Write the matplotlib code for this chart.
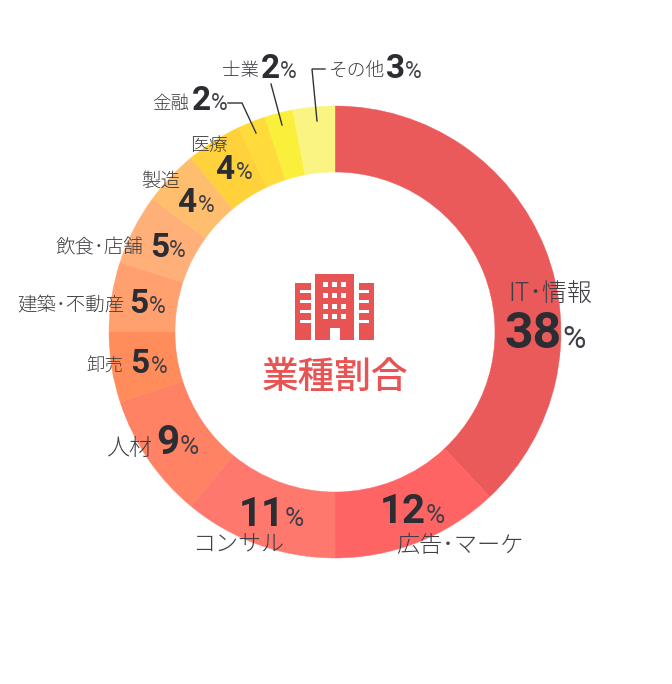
import matplotlib
matplotlib.use("Agg")
import matplotlib.pyplot as plt
from matplotlib.patches import Rectangle

W, H = 672, 684
categories = ["IT･情報", "広告･マーケ", "コンサル", "人材", "卸売", "建築･不動産", "飲食･店舗", "製造", "医療", "金融", "士業", "その他"]
values = [38, 12, 11, 9, 5, 5, 5, 4, 4, 2, 2, 3]
colors = ["#EB5A5A", "#FF6464", "#FF786E", "#FF8264", "#FF8C5A", "#FFA06E", "#FFAF78", "#FFBE6E",
          "#FFD23C", "#FFDC3C", "#FAF03C", "#FAF582"]
title = "業種割合"

# label positions in reference pixels: name (x, base), number (x, base), percent x
name_pos = [(508, 301), (396, 552), (192, 551), (106, 455), (86, 372), (17, 311), (56, 253), (141, 187), (190, 151), (152, 109), (222, 76), (329, 76)]
num_pos = [(505, 348), (380, 523), (239, 526), (156, 454), (130, 373), (129, 313), (150, 257), (177, 212), (215, 179), (192, 110), (261, 78), (386, 78)]
pct_x = [562, 426, 285, 180, 151, 149, 169, 198, 236, 211, 280, 405]
name_pt = [18, 16.7, 16.6, 16.6, 13.3, 14, 14, 14, 13.5, 13.3, 13.3, 13.5]
num_pt = [36, 29, 29, 29, 24, 24, 24, 24, 24, 24, 24, 24]
pct_pt = [23, 19, 19, 19, 16.5, 16.5, 16.5, 16.5, 16.5, 16.5, 16.5, 16.5]
leaders = [[(228, 103), (242, 103), (256, 133)], [(271, 84), (282, 125)], [(325, 69), (312, 69), (317, 121)]]

JP = ["Noto Sans CJK JP", "DejaVu Sans"]
NAME_C, NUM_C, RED = "#3E3E44", "#2B2D33", "#E85353"

fig = plt.figure(figsize=(W / 100, H / 100), dpi=100, facecolor="white")
ax = fig.add_axes([0, 0, 1, 1])
Y = lambda y: H - y

wedges, _ = ax.pie(values, colors=colors, startangle=90, counterclock=False, center=(335, Y(332)), radius=226,
                   wedgeprops=dict(width=66, linewidth=0), frame=True)
for w, c in zip(wedges, colors):
    w.set_edgecolor(c)
    w.set_linewidth(0.3)
ax.set_xlim(0, W)
ax.set_ylim(0, H)
ax.set_aspect("equal")
ax.axis("off")

for pts in leaders:
    ax.plot([p[0] for p in pts], [Y(p[1]) for p in pts], color="#333338", lw=1.0, zorder=3, solid_joinstyle="miter")

for i, (c, v) in enumerate(zip(categories, values)):
    ax.text(name_pos[i][0], Y(name_pos[i][1]), c, family=JP, fontsize=name_pt[i], weight=300,
            color=NAME_C, ha="left", va="baseline", zorder=4)
    ax.text(num_pos[i][0], Y(num_pos[i][1]), str(v), family="Roboto", fontsize=num_pt[i], weight="bold",
            color=NUM_C, ha="left", va="baseline", zorder=4)
    ax.text(pct_x[i], Y(num_pos[i][1]), "%", family="Roboto", fontsize=pct_pt[i], weight="regular",
            color=NAME_C, ha="left", va="baseline", zorder=4)

ax.text(335.5, Y(388), title, family=JP, fontsize=26.4, weight="medium", color=RED, ha="center", va="baseline")

# building icon
def rect(x0, y0, x1, y1, c=RED):
    ax.add_patch(Rectangle((x0, Y(y1)), x1 - x0, y1 - y0, facecolor=c, edgecolor="none", zorder=2))

rect(315, 274, 354, 340)
rect(295, 283, 311, 340)
rect(359, 283, 374, 340)
for y in (290, 300, 310, 320):
    rect(300, y, 311, y + 3, "white")
    rect(359, y, 369, y + 3, "white")
for y in (282, 293, 304, 314):
    for x in (323, 332, 341):
        rect(x, y, x + 5, y + 5, "white")
rect(330, 328, 340, 340, "white")

fig.savefig("out.png", dpi=100)
